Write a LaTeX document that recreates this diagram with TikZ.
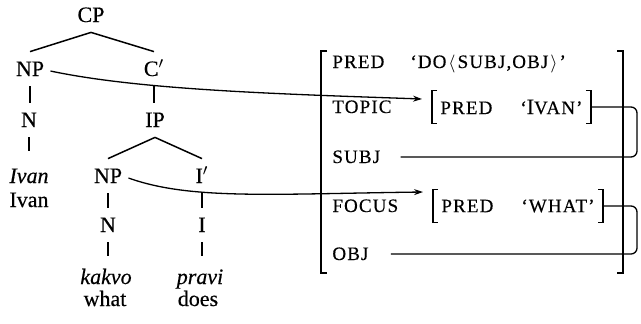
\documentclass[tikz,border=0pt]{standalone}
\usepackage{fontspec}
\setmainfont{Liberation Serif}[FakeBold=0.4]
\newfontfamily\scfont{Liberation Serif}[LetterSpace=6, FakeBold=0.4]
\usetikzlibrary{arrows.meta, positioning}
\newcommand{\fsc}[1]{{\scfont\fontsize{9.5pt}{11pt}\selectfont #1}}

\begin{document}
\begin{tikzpicture}[
  x=0.5pt, y=-0.5pt,
  font=\fontsize{11pt}{13pt}\selectfont,
  cat/.style      = {anchor=base, inner xsep=1pt, inner ysep=5pt,
                     text height=7pt, text depth=0pt},
  word/.style     = {anchor=base, inner xsep=1pt, inner ysep=7pt,
                     text height=7pt, text depth=0pt, font=\fontsize{11pt}{13pt}\selectfont\itshape},
  gloss/.style    = {anchor=base, inner sep=1pt},
  attr/.style     = {anchor=base west, inner sep=0pt, text height=6pt, text depth=0pt},
  val/.style      = {anchor=base west, inner sep=0pt},
  fsbox/.style    = {anchor=west, inner xsep=4pt, minimum height=16pt},
  branch/.style   = {line width=0.75pt},
  brack/.style    = {line width=0.75pt},
  bigbrack/.style = {line width=1.1pt},
  link/.style     = {line width=0.65pt},
  arr/.style      = {link, -{Stealth[length=4.5pt, width=3pt]}},
]
\useasboundingbox (0,0) rectangle (641,323);

%% c-structure
\node[cat] (cp)   at (91,22)   {CP};
\node[cat] (np1)  at (30,76)   {NP};
\node[cat] (cbar) at (154,76)  {C$'$};
\node[cat] (n1)   at (29,127)  {N};
\node[cat] (ip)   at (155,127) {IP};
\node[cat] (np2)  at (108,183) {NP};
\node[cat] (ibar) at (202,183) {I$'$};
\node[cat] (n2)   at (108,232) {N};
\node[cat] (i)    at (202,232) {I};

\node[word] (ivan)  at (29,183)  {Ivan};
\node[word] (kakvo) at (106,284) {kakvo};
\node[word] (pravi) at (200,284) {pravi};

\node[gloss] (ivang)  at (29,207)  {Ivan};
\node[gloss] (whatg)  at (105,306) {what};
\node[gloss] (doesg)  at (198,306) {does};

\foreach \a/\b in {cp/np1, cp/cbar, ip/np2, ip/ibar}
  \draw[branch] (\a.south) -- (\b.north);
\foreach \a/\b in {np1/n1, cbar/ip, np2/n2, ibar/i, n2/kakvo, i/pravi}
  \draw[branch] (\a.south) -- (\a.south |- \b.north);
\draw[branch, shorten >=2pt] (n1.south) -- (n1.south |- ivan.north);

%% f-structure
\draw[bigbrack] (327,51) -| (321,273) -- (327,273);
\draw[bigbrack] (617,51) -| (623,273) -- (617,273);

\node[attr] (pred)  at (332,68)  {\fsc{PRED}};
\node[attr] (topic) at (332,113) {\fsc{TOPIC}};
\node[attr] (subj)  at (332,163) {\fsc{SUBJ}};
\node[attr] (focus) at (332,212) {\fsc{FOCUS}};
\node[attr] (obj)   at (332,260) {\fsc{OBJ}};

\node[val] (predval) at (410,68) {\fsc{‘DO\kern1pt$\langle$\kern1pt SUBJ,\kern0.5pt OBJ\kern1pt$\rangle$\kern1pt’}};

\node[fsbox] (topicfs) at (432,107) {\fsc{PRED}\hspace{14pt}\fsc{‘}I\fsc{VAN’}};
\node[fsbox] (focusfs) at (433,206) {\fsc{PRED}\hspace{14pt}\fsc{‘WHAT’}};

\foreach \n in {topicfs, focusfs}
  \draw[brack] ([xshift=2.5pt]\n.north west) -| (\n.south west) -- ++(2.5pt,0)
               ([xshift=-2.5pt]\n.north east) -| (\n.south east) -- ++(-2.5pt,0);

%% structure sharing
\coordinate (rail) at (637,0);
\draw[link, rounded corners=3pt] (topicfs.east) -- (topicfs.east -| rail) |- ([xshift=10pt]subj.east);
\draw[link, rounded corners=3pt] (focusfs.east) -- (focusfs.east -| rail) |- ([xshift=11pt]obj.east);

%% projection arrows
\draw[arr] ([xshift=2pt,yshift=-1pt]np1.east) .. controls (140,90) and (280,94) .. ([xshift=-5pt,yshift=4pt]topicfs.west);
\draw[arr] ([xshift=2pt,yshift=-1pt]np2.east) .. controls (190,200) and (270,194) .. ([xshift=-5pt,yshift=7pt]focusfs.west);

\end{tikzpicture}
\end{document}
